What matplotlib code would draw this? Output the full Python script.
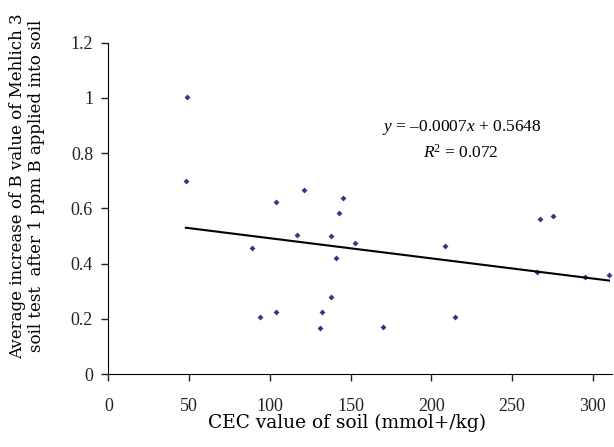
import numpy as np
import matplotlib
matplotlib.use("Agg")
import matplotlib.pyplot as plt

plt.rcParams.update({'font.family': 'Liberation Serif', 'font.size': 13,
                     'mathtext.fontset': 'custom',
                     'mathtext.rm': 'Liberation Serif',
                     'mathtext.it': 'Liberation Serif:italic'})

# CEC (mmol+/kg) vs average increase of Mehlich 3 B
cec = [49, 48, 89, 94, 104, 104, 117, 121, 131, 132, 138, 138,
       141, 143, 145.5, 153, 170, 208.5, 214.5, 265.5, 267.5, 275.5, 295, 310]
b_inc = [1.003, 0.70, 0.457, 0.206, 0.623, 0.224, 0.504, 0.665, 0.168, 0.224, 0.501, 0.28,
         0.421, 0.582, 0.638, 0.476, 0.169, 0.462, 0.208, 0.368, 0.56, 0.571, 0.352, 0.357]

# trend line as drawn
slope = -0.00073
intercept = 0.5648

fig = plt.figure(figsize=(6.14, 4.47), dpi=100)
ax = fig.add_axes([0.1765, 0.1633, 0.8205, 0.7412])

ax.plot(cec, b_inc, 'D', color='#2b3a8f', markersize=3, markeredgewidth=0)

xl = np.array([min(cec), max(cec)])
ax.plot(xl, slope * xl + intercept, color='black', linewidth=1.5)

ax.set_xlim(0, 312)
ax.set_ylim(0, 1.2)
ax.set_xticks([0, 50, 100, 150, 200, 250, 300])
ax.set_yticks([0, 0.2, 0.4, 0.6, 0.8, 1.0, 1.2])
ax.set_yticklabels(['0', '0.2', '0.4', '0.6', '0.8', '1', '1.2'])
ax.spines['top'].set_visible(False)
ax.spines['right'].set_visible(False)
ax.tick_params(direction='out', length=5, width=1, pad=12, colors='#222222')
ax.tick_params(axis='y', pad=6)

ax.text(219, 0.894, r'$y$ = –0.0007$x$ + 0.5648', ha='center', va='center', fontsize=12.5)
ax.text(218, 0.80, r'$R$$^2$ = 0.072', ha='center', va='center', fontsize=12.5)

fig.text(347.5 / 614, 1 - 423 / 447, 'CEC value of soil (mmol+/kg)', ha='center', va='center',
         fontsize=13.4, family='DejaVu Serif')
fig.text(27 / 614, 1 - 186 / 447,
         'Average increase of B value of Mehlich 3\nsoil test  after 1 ppm B applied into soil',
         ha='center', va='center', rotation=90, fontsize=12, linespacing=1.15, family='DejaVu Serif')

fig.savefig('out.png', dpi=100)
